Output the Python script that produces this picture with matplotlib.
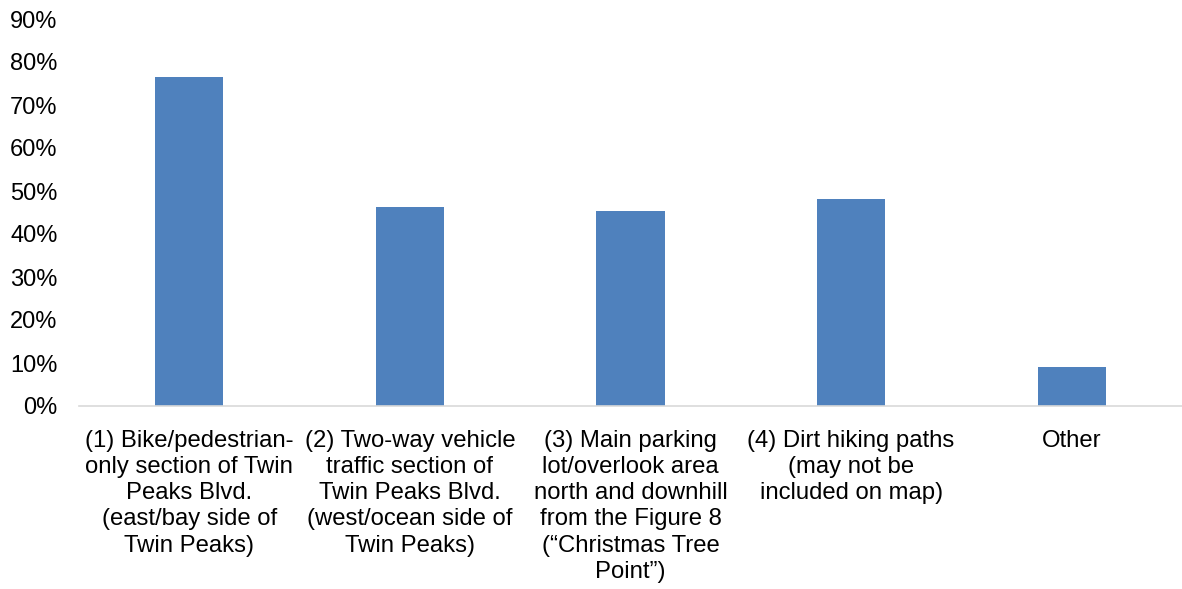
import matplotlib.pyplot as plt
import numpy as np

categories = [
    "(1) Bike/pedestrian-\nonly section of Twin\nPeaks Blvd.\n(east/bay side of\nTwin Peaks)",
    "(2) Two-way vehicle\ntraffic section of\nTwin Peaks Blvd.\n(west/ocean side of\nTwin Peaks)",
    "(3) Main parking\nlot/overlook area\nnorth and downhill\nfrom the Figure 8\n(\u201cChristmas Tree\nPoint\u201d)",
    "(4) Dirt hiking paths\n(may not be\nincluded on map)",
    "Other",
]
values = [76.5, 46.3, 45.3, 48.1, 9.0]
yticks = [0, 10, 20, 30, 40, 50, 60, 70, 80, 90]

plt.rcParams['font.family'] = ['Liberation Sans', 'DejaVu Sans']

fig = plt.figure(figsize=(11.82, 5.89), dpi=100)
ax = fig.add_axes([79 / 1182, 1 - 406 / 589, 1 - 79 / 1182, 387 / 589])

x = np.arange(len(categories))
ax.bar(x, values, width=0.31, color="#4F81BD")

ax.set_xlim(-0.5, len(categories) - 0.5)
ax.set_ylim(0, 90)
ax.set_yticks(yticks)
ax.set_yticklabels([f"{t}%" for t in yticks], fontsize=17)
ax.set_xticks(x)
ax.set_xticklabels(categories, fontsize=17.2, linespacing=1.25, va="top")

for s in ["top", "right", "left"]:
    ax.spines[s].set_visible(False)
ax.spines["bottom"].set_color("#D9D9D9")
ax.spines["bottom"].set_linewidth(1.2)
ax.tick_params(axis="both", length=0)
ax.tick_params(axis="y", pad=15.5)
ax.tick_params(axis="x", pad=17)

fig.savefig("out.png", dpi=100)
